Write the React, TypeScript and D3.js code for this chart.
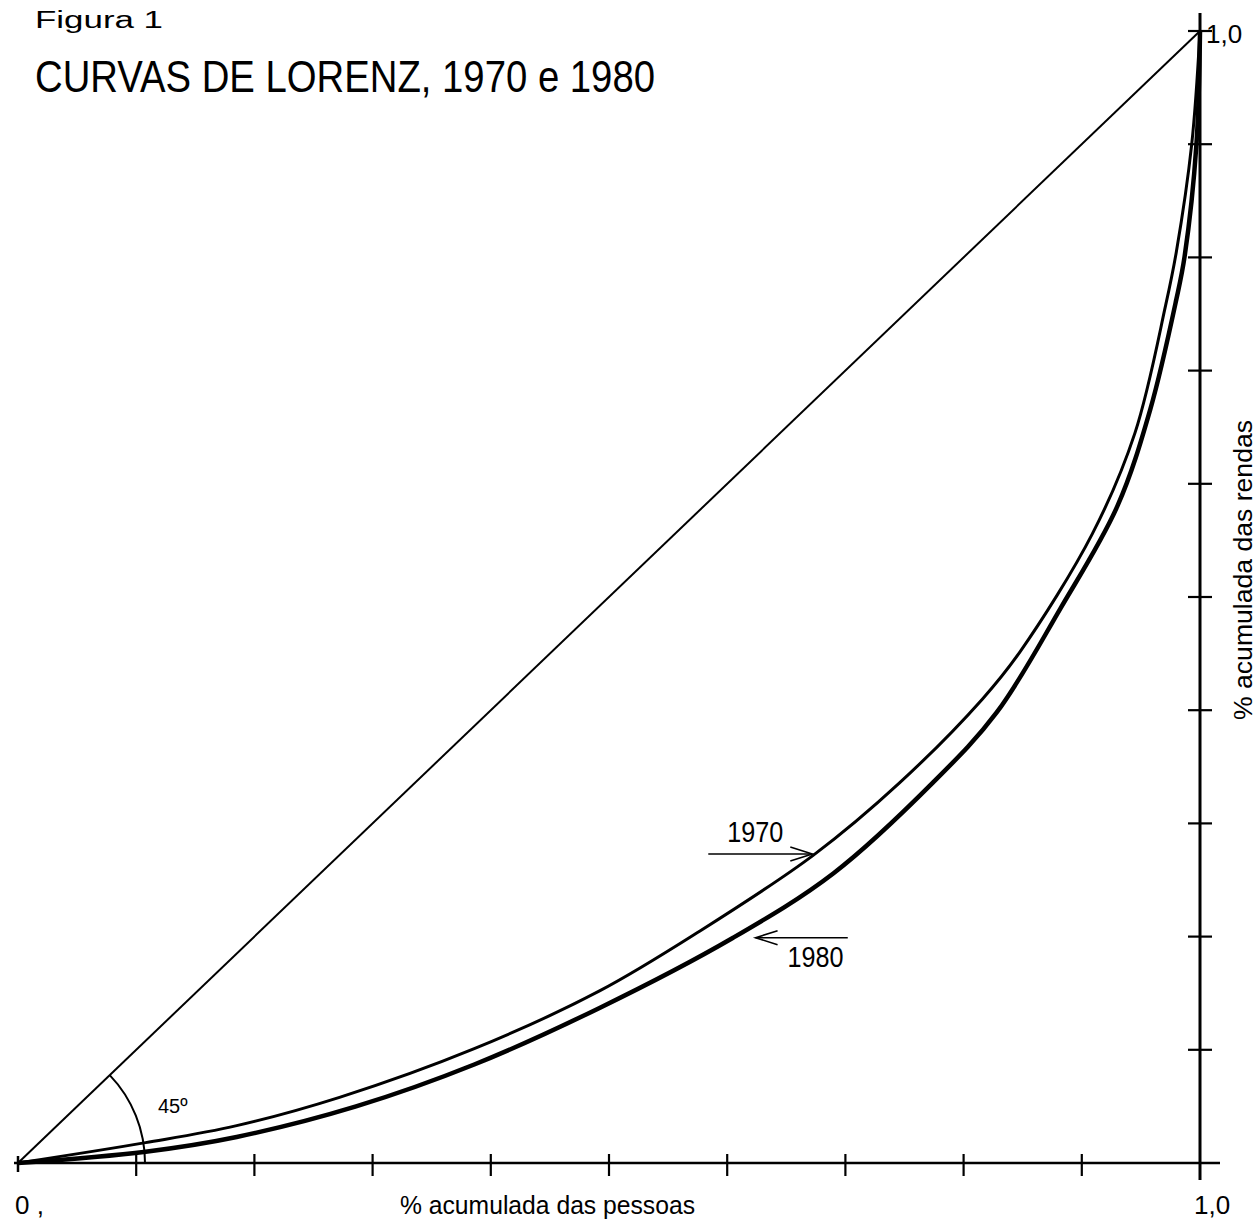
import * as d3 from "d3";
import * as React from "react";

interface Pt {
    x: number;
    y: number;
}

// Cumulative share of persons (x) vs cumulative share of income (y)
const lorenz1970: Pt[] = [
    { x: 0, y: 0 },
    { x: 0.108, y: 0.018 },
    { x: 0.185, y: 0.033 },
    { x: 0.272, y: 0.058 },
    { x: 0.386, y: 0.101 },
    { x: 0.492, y: 0.152 },
    { x: 0.577, y: 0.205 },
    { x: 0.673, y: 0.272 },
    { x: 0.746, y: 0.336 },
    { x: 0.816, y: 0.41 },
    { x: 0.848, y: 0.452 },
    { x: 0.909, y: 0.556 },
    { x: 0.945, y: 0.645 },
    { x: 0.971, y: 0.758 },
    { x: 0.98, y: 0.805 },
    { x: 0.993, y: 0.9 },
    { x: 1, y: 1 },
];

const lorenz1980: Pt[] = [
    { x: 0, y: 0 },
    { x: 0.108, y: 0.01 },
    { x: 0.185, y: 0.023 },
    { x: 0.286, y: 0.05 },
    { x: 0.386, y: 0.087 },
    { x: 0.492, y: 0.137 },
    { x: 0.605, y: 0.199 },
    { x: 0.69, y: 0.256 },
    { x: 0.774, y: 0.336 },
    { x: 0.828, y: 0.398 },
    { x: 0.882, y: 0.49 },
    { x: 0.93, y: 0.58 },
    { x: 0.958, y: 0.666 },
    { x: 0.98, y: 0.763 },
    { x: 0.987, y: 0.801 },
    { x: 0.997, y: 0.9 },
    { x: 1, y: 1 },
];

const tickValues = [0.1, 0.2, 0.3, 0.4, 0.5, 0.6, 0.7, 0.8, 0.9];

const figureLabel = "Figura 1";
const title = "CURVAS  DE LORENZ, 1970 e 1980";
const xTitle = "% acumulada das pessoas";
const yTitle = "% acumulada  das rendas";

// annotation anchors in data units
const labels = [
    { text: "1970", x: 0.6, y: 0.284, arrowFrom: 0.584, arrowTo: 0.672, arrowY: 0.273 },
    { text: "1980", x: 0.651, y: 0.173, arrowFrom: 0.702, arrowTo: 0.624, arrowY: 0.199 },
];

const W = 1257;
const H = 1221;
const font = "'Liberation Sans', Arial, sans-serif";

export default function App(): JSX.Element {
    const x = d3.scaleLinear().domain([0, 1]).range([18, 1200]);
    const y = d3.scaleLinear().domain([0, 1]).range([1163, 31]);

    const line = d3.line<Pt>()
        .x(d => x(d.x))
        .y(d => y(d.y))
        .curve(d3.curveCatmullRom.alpha(0.5));

    // 45 degree arc around the origin
    const ang = Math.atan2(y(1) - y(0), x(1) - x(0));
    const r = 127;
    const arc = d3.path();
    arc.moveTo(x(0) + r * Math.cos(ang), y(0) + r * Math.sin(ang));
    arc.arc(x(0), y(0), r, ang, 0);

    const arrowHead = (tx: number, ty: number, dir: number) =>
        `M${tx - dir * 22},${ty - 7} L${tx},${ty} L${tx - dir * 22},${ty + 7}`;

    return (
        <svg width={W} height={H} style={{ position: "absolute", left: 0, top: 0, background: "#fff" }}>
            <rect width={W} height={H} fill="#fff" />

            <text x={35} y={28} fontFamily={font} fontSize={23} textLength={128} lengthAdjust="spacingAndGlyphs">
                {figureLabel}
            </text>
            <text x={35} y={92} fontFamily={font} fontSize={44} textLength={620} lengthAdjust="spacingAndGlyphs">
                {title}
            </text>

            {/* axes */}
            <line x1={x(0) - 4} x2={x(1) + 20} y1={y(0)} y2={y(0)} stroke="#000" strokeWidth={2.5} />
            <line x1={x(1)} x2={x(1)} y1={y(1) - 18} y2={y(0) + 17} stroke="#000" strokeWidth={3} />
            <line x1={x(0)} x2={x(0)} y1={y(0) - 7} y2={y(0) + 9} stroke="#000" strokeWidth={2.5} />
            {tickValues.map(t => (
                <line key={"xt" + t} x1={x(t)} x2={x(t)} y1={y(0) - 9} y2={y(0) + 13} stroke="#000" strokeWidth={2.2} />
            ))}
            {tickValues.concat([1]).map(t => (
                <line key={"yt" + t} x1={x(1) - 12} x2={x(1) + 12} y1={y(t)} y2={y(t)} stroke="#000" strokeWidth={2.2} />
            ))}

            {/* equality line */}
            <line x1={x(0)} y1={y(0)} x2={x(1)} y2={y(1)} stroke="#000" strokeWidth={2} />
            <path d={arc.toString()} fill="none" stroke="#000" strokeWidth={2} />
            <text x={158} y={1113} fontFamily={font} fontSize={20}>45º</text>

            {/* Lorenz curves */}
            <path d={line(lorenz1970) ?? ""} fill="none" stroke="#000" strokeWidth={3} />
            <path d={line(lorenz1980) ?? ""} fill="none" stroke="#000" strokeWidth={4.5} />

            {labels.map(l => {
                const dir = l.arrowTo > l.arrowFrom ? 1 : -1;
                return (
                    <g key={l.text}>
                        <text x={x(l.x)} y={y(l.y)} fontFamily={font} fontSize={29} textLength={56} lengthAdjust="spacingAndGlyphs">
                            {l.text}
                        </text>
                        <line x1={x(l.arrowFrom)} x2={x(l.arrowTo)} y1={y(l.arrowY)} y2={y(l.arrowY)} stroke="#000" strokeWidth={1.6} />
                        <path d={arrowHead(x(l.arrowTo), y(l.arrowY), dir)} fill="none" stroke="#000" strokeWidth={1.6} />
                    </g>
                );
            })}

            {/* axis labels */}
            <text x={15} y={1214} fontFamily={font} fontSize={26}>0 ,</text>
            <text x={1194} y={1214} fontFamily={font} fontSize={26}>1,0</text>
            <text x={1206} y={43} fontFamily={font} fontSize={26}>1,0</text>
            <text x={400} y={1214} fontFamily={font} fontSize={25} textLength={295} lengthAdjust="spacingAndGlyphs">
                {xTitle}
            </text>
            <text
                transform="translate(1252,720) rotate(-90)"
                fontFamily={font}
                fontSize={25}
                textLength={300}
                lengthAdjust="spacingAndGlyphs"
            >
                {yTitle}
            </text>
        </svg>
    );
}
